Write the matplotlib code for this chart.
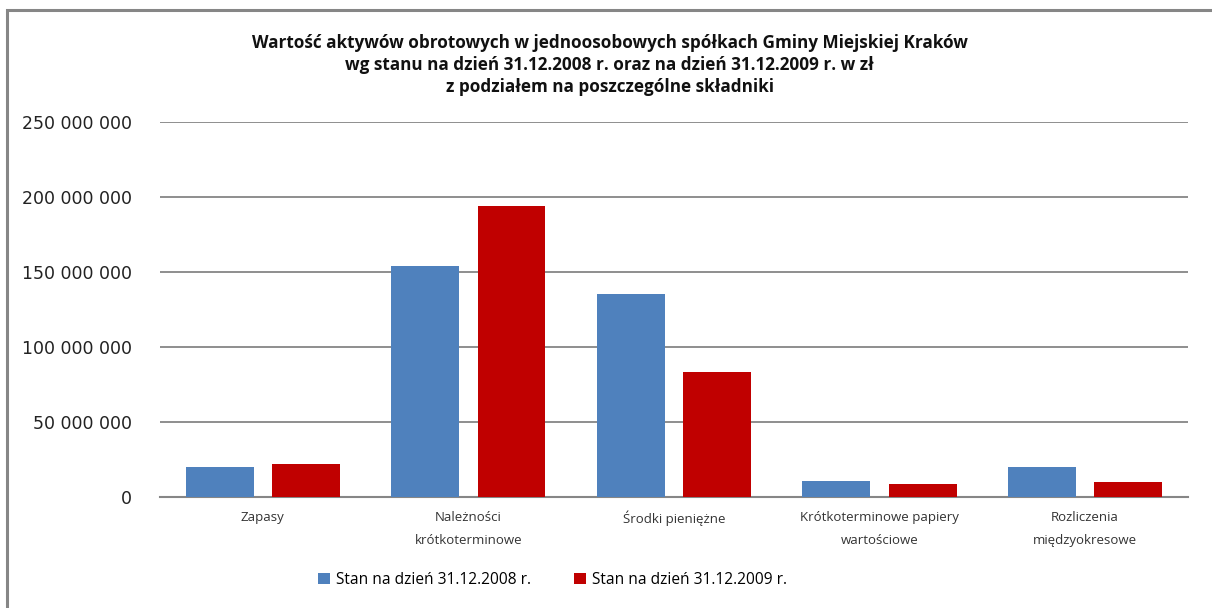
import numpy as np
import matplotlib.pyplot as plt
from matplotlib.patches import Rectangle
from matplotlib.ticker import FuncFormatter

kategorie = ["Zapasy", "Należności\nkrótkoterminowe", "Środki pieniężne",
             "Krótkoterminowe papiery\nwartościowe", "Rozliczenia\nmiędzyokresowe"]
stan_2008 = [20.3e6, 154.2e6, 135.5e6, 10.9e6, 20.2e6]
stan_2009 = [22.3e6, 193.9e6, 83.5e6, 8.9e6, 10.2e6]
etykiety = ["Stan na dzień 31.12.2008 r.", "Stan na dzień 31.12.2009 r."]
tytul = ("Wartość aktywów obrotowych w jednoosobowych spółkach Gminy Miejskiej Kraków\n"
         "wg stanu na dzień 31.12.2008 r. oraz na dzień 31.12.2009 r. w zł\n"
         "z podziałem na poszczególne składniki")

niebieski = "#4f81bd"
czerwony = "#c00000"
szary = "#868686"

fig = plt.figure(figsize=(12.12, 6.08), dpi=100)
ax = fig.add_axes([0.132, 0.1826, 0.848, 0.6167])

x = np.arange(len(kategorie))
w = 0.33
ax.bar(x - 0.21, stan_2008, w, color=niebieski, label=etykiety[0], zorder=3)
ax.bar(x + 0.21, stan_2009, w, color=czerwony, label=etykiety[1], zorder=3)

ax.set_xlim(-0.5, len(kategorie) - 0.5)
ax.set_ylim(0, 250e6)
ax.set_yticks(np.arange(0, 250e6 + 1, 50e6))
ax.yaxis.set_major_formatter(FuncFormatter(lambda v, p: f"{int(v):,}".replace(",", " ")))
ax.grid(axis="y", color=szary, linewidth=1.3, zorder=0)
for s in ["top", "right", "left"]:
    ax.spines[s].set_visible(False)
ax.spines["bottom"].set_color(szary)
ax.spines["bottom"].set_linewidth(1.5)
ax.tick_params(axis="y", length=0, pad=20, labelsize=12.5, labelcolor="#222222")
ax.tick_params(axis="x", length=0, pad=10)
ax.set_xticks(x)
ax.set_xticklabels(kategorie, fontsize=9.5, color="#333333", linespacing=2.0,
                   family="Open Sans", va="top")

fig.text(0.503, 0.944, tytul, ha="center", va="top", fontsize=12.3,
         fontweight="bold", family="Open Sans", linespacing=1.3, color="#111111")

fig.legend(loc="center", bbox_to_anchor=(0.456, 0.046), ncol=2, frameon=False,
           prop={"family": "Open Sans", "size": 11.2}, handlelength=0.75,
           handleheight=0.75, handletextpad=0.4, columnspacing=2.8)

# ramka wykresu (ucięta z prawej i od dołu)
fig.patches.append(Rectangle((0.0055, -0.1), 1.2, 1.083, transform=fig.transFigure,
                             fill=False, edgecolor=szary, linewidth=2.2))

fig.savefig("out.png", dpi=100)
